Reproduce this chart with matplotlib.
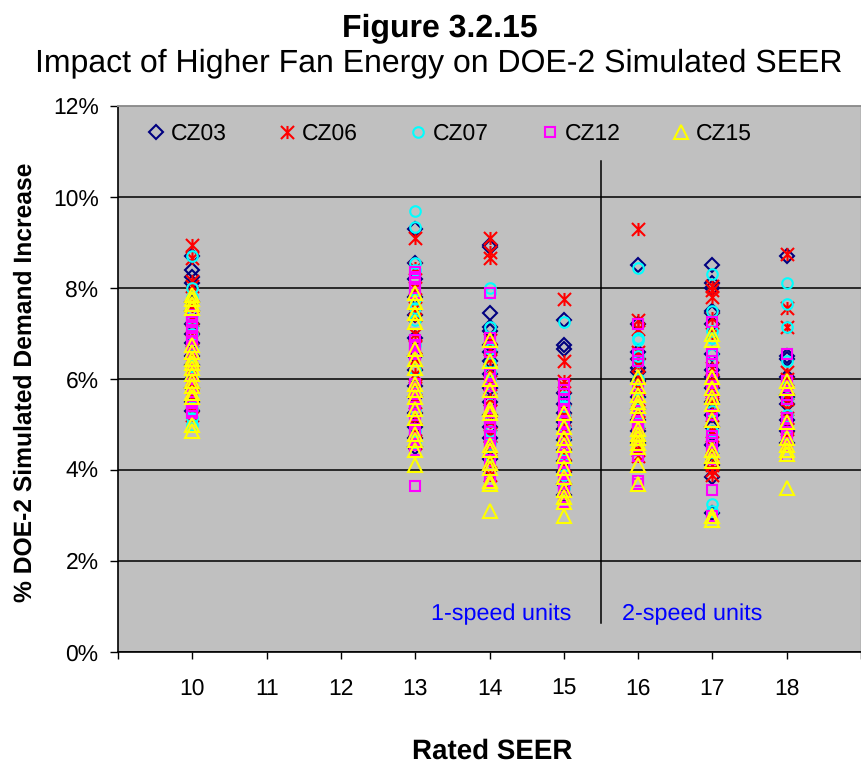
import matplotlib
matplotlib.use("Agg")
import matplotlib.pyplot as plt
from matplotlib.path import Path

plt.rcParams['font.family'] = ['Liberation Sans', 'DejaVu Sans']
plt.rcParams['text.hinting'] = 'no_hinting'

star_marker = Path([(-1, -1), (1, 1), (-1, 1), (1, -1), (0, -1), (0, 1)],
                   [Path.MOVETO, Path.LINETO, Path.MOVETO, Path.LINETO, Path.MOVETO, Path.LINETO])

series_names = ['CZ03', 'CZ06', 'CZ07', 'CZ12', 'CZ15']
colors = ['#000080', '#FF0000', '#00FFFF', '#FF00FF', '#FFFF00']
markers = ['D', star_marker, 'o', 's', '^']
sizes = [6.8, 9.4, 7.6, 7.2, 9.6]

cz03 = {
    10: [8.7, 8.4, 8.25, 8.1, 7.7, 7.5, 7.2, 7.0, 6.8, 6.5, 6.3, 6.0, 5.8, 5.5, 5.3],
    13: [9.3, 8.55, 8.2, 7.8, 7.4, 6.9, 6.5, 6.2, 5.85, 5.6, 5.25, 4.95, 4.7, 4.5],
    14: [8.95, 8.9, 7.45, 7.15, 7.05, 6.75, 6.6, 6.4, 6.1, 5.8, 5.5, 5.2, 4.95, 4.7, 4.25, 4.0],
    15: [7.3, 6.75, 6.65, 5.7, 5.45, 5.25, 5.05, 4.9, 4.65, 4.45, 4.2, 3.95, 3.7, 3.45],
    16: [8.5, 7.2, 6.6, 6.45, 6.25, 6.15, 5.95, 5.6, 5.35, 5.1, 4.85, 4.6],
    17: [8.5, 8.1, 8.0, 7.5, 7.45, 7.2, 6.55, 6.2, 6.05, 5.8, 5.5, 5.2, 4.95, 4.55, 4.1, 3.85, 3.05],
    18: [8.7, 6.5, 6.45, 6.05, 5.65, 5.6, 5.45, 5.1, 4.85, 4.6],
}
cz06 = {
    10: [8.95, 8.65, 8.15, 8.05, 7.6, 7.3, 7.1, 6.9, 6.6, 6.4, 6.1, 5.9, 5.6, 5.4, 5.2],
    13: [9.1, 8.45, 8.0, 7.55, 7.4, 7.0, 6.7, 6.45, 6.1, 5.8, 5.5, 5.15, 4.9, 4.6],
    14: [9.1, 8.8, 8.65, 6.85, 6.65, 6.45, 6.2, 5.9, 5.55, 5.3, 5.05, 4.75, 4.5, 4.2, 3.9],
    15: [7.75, 6.4, 5.95, 5.85, 5.3, 5.1, 4.85, 4.6, 4.35, 4.1, 3.85, 3.55],
    16: [9.3, 7.3, 7.1, 6.6, 6.3, 6.05, 5.8, 5.55, 5.3, 5.05, 4.8, 4.45, 4.3],
    17: [8.05, 7.95, 7.8, 7.35, 7.0, 6.25, 5.95, 5.75, 5.45, 5.2, 4.85, 4.5, 4.1, 4.0, 3.9],
    18: [8.75, 7.55, 7.15, 6.15, 6.0, 5.7, 5.55, 5.35, 5.15, 4.9, 4.7],
}
cz07 = {
    10: [8.7, 8.0, 7.8, 7.4, 7.15, 7.0, 6.7, 6.5, 6.3, 6.05, 5.85, 5.6, 5.35, 5.15, 5.0],
    13: [9.7, 9.35, 8.55, 8.4, 7.75, 7.55, 7.3, 6.75, 6.2, 5.7, 5.3, 4.85, 4.6],
    14: [8.0, 7.9, 7.15, 6.65, 6.35, 6.15, 6.0, 5.7, 5.2, 4.85, 4.6, 4.3],
    15: [7.25, 5.6, 5.4, 5.2, 4.95, 4.7, 4.45, 4.15, 3.9, 3.6],
    16: [8.45, 6.9, 6.85, 6.5, 6.4, 6.0, 5.55, 5.25, 4.95, 4.7],
    17: [8.3, 7.5, 7.05, 6.9, 6.55, 5.75, 5.3, 4.85, 4.4, 3.25, 3.1],
    18: [8.1, 7.65, 7.15, 6.4, 5.85, 5.55, 5.2, 4.95, 4.6],
}
cz12 = {
    10: [7.4, 7.3, 7.25, 7.15, 7.05, 6.95, 6.9, 6.8, 6.7, 6.65, 6.55, 6.45, 6.35, 6.2, 6.0, 5.9, 5.8,
         5.65, 5.55, 5.5, 5.4, 5.3, 5.25],
    13: [8.35, 8.25, 8.2, 8.1, 8.0, 7.9, 6.85, 6.75, 6.7, 6.6, 6.55, 6.4, 5.9, 5.8, 5.75, 5.6, 5.45,
         5.3, 5.2, 5.05, 4.9, 4.8, 4.7, 4.55, 4.45, 3.65],
    14: [7.9, 6.9, 6.8, 6.7, 6.6, 6.1, 6.0, 5.85, 5.7, 5.5, 5.3, 5.2, 5.15, 5.05, 4.95, 4.75, 4.6,
         4.5, 4.45, 4.2, 3.9, 3.75],
    15: [5.9, 5.75, 5.55, 5.45, 5.3, 5.2, 5.05, 4.95, 4.8, 4.7, 4.55, 4.4, 4.3, 4.15, 4.05, 3.95,
         3.8, 3.7, 3.6, 3.5, 3.4, 3.3, 3.25],
    16: [7.2, 6.55, 6.4, 5.8, 5.65, 5.45, 5.3, 5.2, 5.15, 5.05, 5.0, 4.9, 4.85, 4.75, 4.7, 4.55,
         4.45, 4.3, 3.75, 3.7],
    17: [7.25, 6.55, 6.4, 6.2, 6.05, 5.95, 5.85, 5.7, 5.55, 5.35, 5.2, 4.75, 4.65, 4.6, 4.45, 4.25, 3.55, 3.0],
    18: [6.55, 5.95, 5.85, 5.65, 5.55, 5.15, 5.05, 5.0, 4.9, 4.75, 4.6, 4.5, 4.4, 4.3],
}
cz15 = {
    10: [7.85, 7.75, 7.65, 7.55, 6.75, 6.6, 6.45, 6.35, 6.25, 6.1, 5.95, 5.85, 5.7, 5.6, 5.0, 4.85],
    13: [7.9, 7.7, 7.45, 7.25, 6.65, 6.45, 6.25, 5.9, 5.75, 5.6, 5.35, 5.15, 4.8, 4.65, 4.45, 4.1],
    14: [6.85, 6.4, 6.0, 5.75, 5.35, 5.25, 4.55, 4.45, 4.15, 4.05, 3.75, 3.7, 3.1],
    15: [5.25, 4.95, 4.7, 4.55, 4.3, 4.05, 3.85, 3.55, 3.4, 3.3, 3.0],
    16: [6.05, 5.85, 5.65, 5.5, 5.4, 5.2, 4.9, 4.8, 4.7, 4.6, 4.5, 4.1, 3.7],
    17: [7.0, 6.85, 6.05, 5.8, 5.6, 5.45, 5.1, 4.45, 4.3, 4.2, 3.0, 2.9],
    18: [5.95, 5.8, 5.05, 4.7, 4.55, 4.45, 4.35, 3.6],
}
all_series = [cz03, cz06, cz07, cz12, cz15]

x_ticks = list(range(9, 20))
x_tick_labels = ['', '10', '11', '12', '13', '14', '15', '16', '17', '18', '']
y_ticks = [0, 2, 4, 6, 8, 10, 12]
y_tick_labels = ['0%', '2%', '4%', '6%', '8%', '10%', '12%']
divider_x = 15.5
divider_y = [0.64, 10.8]

W, H = 862, 764
fig = plt.figure(figsize=(W / 100, H / 100), dpi=100, facecolor='white')
L, R, T, B = 118, 861, 106, 652
ax = fig.add_axes([L / W, 1 - B / H, (R - L) / W, (B - T) / H], facecolor='#C0C0C0')
ax.set_xlim(9, 19)
ax.set_ylim(0, 12)
ax.set_axisbelow(True)
ax.yaxis.grid(True, color='black', lw=1.1)

for name, color, m, s, data in zip(series_names, colors, markers, sizes, all_series):
    xs, ys = [], []
    for k, vals in data.items():
        xs += [k] * len(vals)
        ys += vals
    ax.plot(xs, ys, ls='none', marker=m, ms=s, mfc='none', mec=color,
            mew=1.5, label=name, clip_on=False)
ax.plot([divider_x, divider_x], divider_y, color='black', lw=1.1)

ax.set_xticks(x_ticks, x_tick_labels)
ax.set_yticks(y_ticks, y_tick_labels)
ax.tick_params(axis='x', length=5, width=1, direction='out', labelsize=16.5, pad=14, color='black')
ax.tick_params(axis='y', length=6, width=1, direction='out', labelsize=16.5, pad=8, color='black')
for side in ['left', 'bottom']:
    ax.spines[side].set_color('black')
    ax.spines[side].set_linewidth(1.2)
ax.spines['top'].set_color('#909090')
ax.spines['top'].set_linewidth(1.4)
ax.spines['right'].set_color('#909090')
ax.spines['right'].set_linewidth(1.0)

leg = ax.legend(loc='upper left', bbox_to_anchor=(0.033, 0.968), ncol=5, frameon=False,
                fontsize=16.5, handletextpad=0.05, columnspacing=2.03, handlelength=1.2,
                borderaxespad=0, borderpad=0)

fig.text(440 / W, 1 - 28 / H, 'Figure 3.2.15', ha='center', va='center', fontsize=23, fontweight='bold')
fig.text(439 / W, 1 - 63 / H, 'Impact of Higher Fan Energy on DOE-2 Simulated SEER', ha='center', va='center', fontsize=23)
fig.text(25 / W, 1 - 382 / H, '% DOE-2 Simulated Demand Increase', rotation=90, ha='center', va='center',
         fontsize=17.7, fontweight='bold')
fig.text(492 / W, 1 - 751 / H, 'Rated SEER', ha='center', va='center', fontsize=20, fontweight='bold')
fig.text(501 / W, 1 - 614 / H, '1-speed units', ha='center', va='center', fontsize=16.8, color='#0000FF')
fig.text(692 / W, 1 - 614 / H, '2-speed units', ha='center', va='center', fontsize=16.8, color='#0000FF')

fig.savefig('out.png', dpi=100)
